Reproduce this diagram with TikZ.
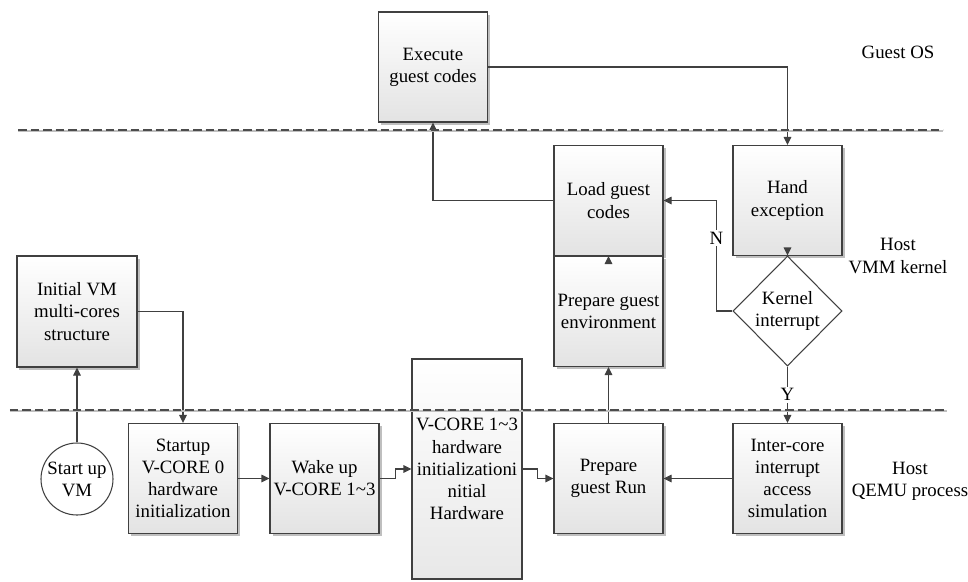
\documentclass[tikz,border=0pt]{standalone}
\usepackage{fontspec}
\setmainfont{Liberation Serif}
\usetikzlibrary{positioning,shapes.geometric,shadows,arrows.meta}

\begin{document}
\begin{tikzpicture}[
        ->, % Arrow style
        > = {Triangle[length=1.6mm,width=1.5mm]}, % arrow head style
        draw = black!75, % line colour
        line width = 0.6pt, % line style
        font = \fontsize{10.7}{12.6}\selectfont,
        node distance = 2cm % distance between nodes
      ]

      \tikzstyle{box}=[rectangle,draw=black!75,align=center,inner sep=1pt,
        minimum width=2.18cm,minimum height=2.2cm,
        top color=white,bottom color=black!11,
        drop shadow={shadow xshift=0.5mm,shadow yshift=-0.5mm,fill=black!25,opacity=1}]
      \tikzstyle{tallbox}=[rectangle,draw=black!75,align=center,inner sep=1pt,
        minimum width=2.2cm,minimum height=4.4cm,
        top color=white,bottom color=black!9]
      \tikzstyle{decision}=[diamond,draw=black!75,fill=white,align=center,
        aspect=1,inner sep=0pt,minimum width=2.18cm,minimum height=2.2cm]
      \tikzstyle{startnode}=[circle,draw=black!75,fill=white,align=center,
        inner sep=0pt,minimum size=1.44cm]
      \tikzstyle{sep}=[-,draw=black!70,line width=1.6pt,dash pattern=on 0.17cm off 0.08cm,
        preaction={draw=black!25,line width=1.6pt,transform canvas={yshift=-0.6pt}}]
      \tikzstyle{ynlabel}=[fill=white,inner sep=1pt]

      \useasboundingbox (0,0) rectangle (19.36,-11.62);

      \node[box] (exec) at (8.66,-1.34) {Execute\\guest codes};
      \node[box] (load) at (12.17,-4.01) {Load guest\\codes};
      \node[box] (env) [below of=load, node distance=2.22cm] {Prepare guest\\environment};
      \node[box] (hand) [right of=load, node distance=3.58cm] {Hand\\exception};
      \node[decision] (kint) [below of=hand, node distance=2.21cm] {Kernel\\interrupt};
      \node[box] (run) at (12.17,-9.57) {Prepare\\guest Run};
      \node[box] (inter) [right of=run, node distance=3.58cm] {Inter-core\\interrupt\\access\\simulation};
      \node[tallbox] (hwinit) at (9.34,-9.38) {V-CORE 1\textasciitilde 3\\hardware\\initializationi\\nitial\\Hardware};
      \node[box] (wake) at (6.49,-9.57) {Wake up\\V-CORE 1\textasciitilde 3};
      \node[box] (startup) [left of=wake, node distance=2.83cm] {Startup\\V-CORE 0\\hardware\\initialization};
      \node[startnode] (vm) at (1.54,-9.58) {Start up\\VM};
      \node[box, minimum width=2.4cm, minimum height=2.22cm] (init) at (1.54,-6.23) {Initial VM\\multi-cores\\structure};

      \node (guest) at (17.96,-1.04) {Guest OS};
      \node[align=center] (vmm) at (17.96,-5.12) {Host\\VMM kernel};
      \node[align=center] (qemu) at (18.2,-9.62) {Host\\QEMU process};

      \draw (vm) -- (init);
      \draw (init.east) -| (startup.north);
      \draw (startup) -- (wake);
      \draw (wake.east) -- ++(0.32,0) |- (hwinit.west);
      \draw (hwinit.east) -- ++(0.3,0) |- (run.west);
      \draw (inter) -- (run);
      \draw (run) -- (env);
      \draw ([yshift=-4pt]env.north) -- (load.south);
      \draw (load.west) -| (exec.south);
      \draw (exec.east) -| (hand.north);
      \draw ([yshift=4pt]hand.south) -- (kint.north);
      \draw (kint.west) -- ++(-0.32,0) |- node[ynlabel, pos=0.33] {N} (load.east);
      \draw (kint.south) -- node[ynlabel] {Y} (inter.north);

      \draw[sep] (0.36,-2.6) -- (18.86,-2.6);
      \draw[sep] (0.2,-8.2) -- (18.94,-8.2);

    \end{tikzpicture}
\end{document}
